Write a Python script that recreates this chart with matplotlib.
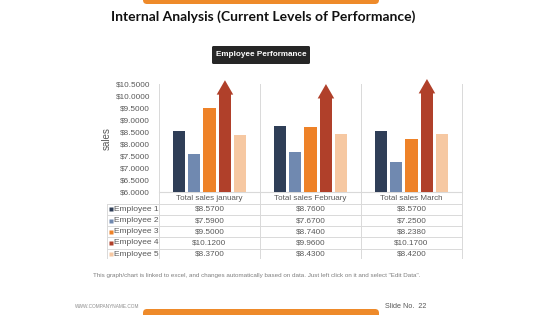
import matplotlib.pyplot as plt
import matplotlib.transforms as mtransforms
from matplotlib.patches import FancyBboxPatch, Polygon
import numpy as np

# données du graphique
months = ["Total sales january", "Total sales February", "Total sales March"]
employees = ["Employee 1", "Employee 2", "Employee 3", "Employee 4", "Employee 5"]
emp1 = [8.57, 8.76, 8.57]
emp2 = [7.59, 7.67, 7.25]
emp3 = [9.50, 8.74, 8.238]
emp4 = [10.12, 9.96, 10.17]
emp5 = [8.37, 8.43, 8.42]
series = [emp1, emp2, emp3, emp4, emp5]
y_ticks = [6.0, 6.5, 7.0, 7.5, 8.0, 8.5, 9.0, 9.5, 10.0, 10.5]

colors = ["#2F3E57", "#7089B0", "#EE8228", "#B0402A", "#F6C8A2"]
grid_col = "#D9D9D9"
txt_col = "#595959"
orange = "#EE8A2A"

plt.rcParams['font.family'] = ['Liberation Sans', 'DejaVu Sans']

W, H = 560, 315
fig = plt.figure(figsize=(W / 100, H / 100), dpi=100)

# axe de fond en pixels pour les décorations
deco = fig.add_axes([0, 0, 1, 1])
deco.set_xlim(0, W)
deco.set_ylim(H, 0)
deco.axis('off')

# bandes orange haut / bas
deco.add_patch(FancyBboxPatch((143, -6), 236, 10, boxstyle="round,pad=0,rounding_size=4",
                              fc=orange, ec='none'))
deco.add_patch(FancyBboxPatch((143, 309), 236, 12, boxstyle="round,pad=0,rounding_size=4",
                              fc=orange, ec='none'))

deco.text(263, 17, "Internal Analysis (Current Levels of Performance)", ha='center', va='center',
          fontsize=10, fontweight='bold', family=['Lato', 'DejaVu Sans'], color='#111111')

deco.add_patch(FancyBboxPatch((212, 46), 98, 18, boxstyle="round,pad=0,rounding_size=1.5",
                              fc='#262626', ec='none'))
deco.text(261, 54.5, "Employee Performance", ha='center', va='center', fontsize=5.9,
          fontweight='bold', color='white')

# graphique principal
top_px, bot_px, left_px, right_px = 84.3, 192.3, 159, 462
ax = fig.add_axes([left_px / W, 1 - bot_px / H, (right_px - left_px) / W, (bot_px - top_px) / H])
ax.patch.set_alpha(0)

x = np.arange(len(months))
bw = 0.119
step = 0.153
for i, vals in enumerate(series):
    xs = x + (i - 2) * step
    ax.bar(xs, np.array(vals) - 6.0, bottom=6.0, width=bw, color=colors[i], zorder=3)
    if i == 3:
        # flèche sur l'employé 4
        for xi, v in zip(xs, vals):
            hw = 0.082
            tri = Polygon([(xi - hw, v - 0.05), (xi + hw, v - 0.05), (xi, v + 0.55)],
                          closed=True, fc=colors[i], ec='none', clip_on=False, zorder=3)
            ax.add_patch(tri)

ax.set_xlim(-0.5, 2.5)
ax.set_ylim(6.0, 10.5)
ax.set_yticks(y_ticks)
ax.set_yticklabels(["${:.4f}".format(t) for t in y_ticks])
ax.tick_params(axis='y', length=0, pad=6.5, labelsize=5.9, labelcolor=txt_col)
ax.set_xticks([])
for s in ['top', 'left', 'right']:
    ax.spines[s].set_visible(False)
ax.spines['bottom'].set_color(grid_col)
ax.spines['bottom'].set_linewidth(0.8)
ax.set_ylabel("sales", fontsize=7, color=txt_col, labelpad=3)

# tableau de données sous le graphique
bt = mtransforms.blended_transform_factory(ax.transData, deco.transData)
for xb in [-0.5, 0.5, 1.5, 2.5]:
    deco.plot([xb, xb], [top_px, 258], transform=bt, color=grid_col, lw=0.7)
deco.plot([107, 107], [203.5, 258], color=grid_col, lw=0.7)

row_y = [209.3, 220.6, 231.8, 243.0, 254.2]
for yl in [203.5, 214.9, 226.2, 237.4, 248.6]:
    deco.plot([107, right_px], [yl, yl], color=grid_col, lw=0.7)

for j, m in enumerate(months):
    deco.text(x[j], 198, m, transform=bt, ha='center', va='center', fontsize=5.8, color=txt_col)

for i, vals in enumerate(series):
    deco.plot(110.5, row_y[i], marker='s', ms=2.6, color=colors[i], mec='none')
    deco.text(114.5, row_y[i], employees[i], ha='left', va='center', fontsize=6, color=txt_col)
    for j, v in enumerate(vals):
        deco.text(x[j], row_y[i], "${:.4f}".format(v), transform=bt, ha='center', va='center',
                  fontsize=5.9, color=txt_col)

deco.text(257, 275, 'This graph/chart is linked to excel, and changes automatically based on data. '
          'Just left click on it and select "Edit Data".', ha='center', va='center',
          fontsize=4.5, color='#7F7F7F')

deco.text(75, 307, "WWW.COMPANYNAME.COM", ha='left', va='center', fontsize=3.4, color='#8C8C8C')
deco.text(385, 307, "Slide No.  22", ha='left', va='center', fontsize=5.2, color=txt_col)

plt.savefig("out.png", dpi=100)
